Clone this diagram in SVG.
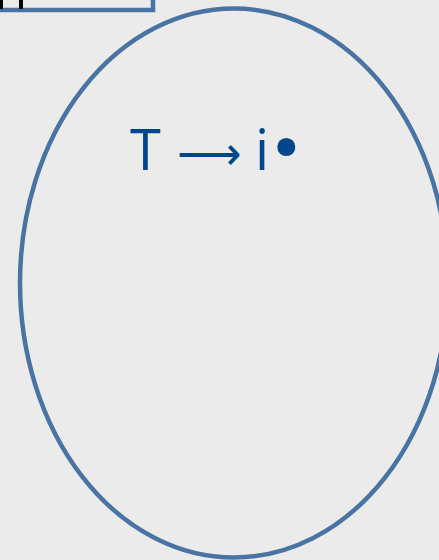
<svg xmlns="http://www.w3.org/2000/svg" width="439" height="560" viewBox="0 0 439 560">
<style>
.st{fill:none;stroke:#4873a2;stroke-width:4.5}
.lbl{font-family:"Open Sans","DejaVu Sans",sans-serif;font-size:56px;fill:#00468b}
.arr{font-family:"DejaVu Sans",sans-serif;font-weight:200;font-size:45px}
.bul{font-family:"DejaVu Sans",sans-serif;font-size:62px}
</style>
<rect width="439" height="560" fill="#ebebeb"/>
<g id="box">
<rect x="-10" y="-20" width="163" height="30" class="st" fill="#ebebeb"/>
<rect x="0" y="0" width="3" height="9" fill="#000"/>
<rect x="19" y="0" width="4" height="9" fill="#000"/>
</g>
<g id="ellipse">
<ellipse cx="234" cy="283" rx="214" ry="274.5" class="st"/>
<text y="170" class="lbl"><tspan x="130">T</tspan><tspan x="177" y="169" class="arr">⟶</tspan><tspan x="255" y="170">i</tspan><tspan x="268" class="bul">•</tspan></text>
</g>
<g id="connectors"/>
</svg>
